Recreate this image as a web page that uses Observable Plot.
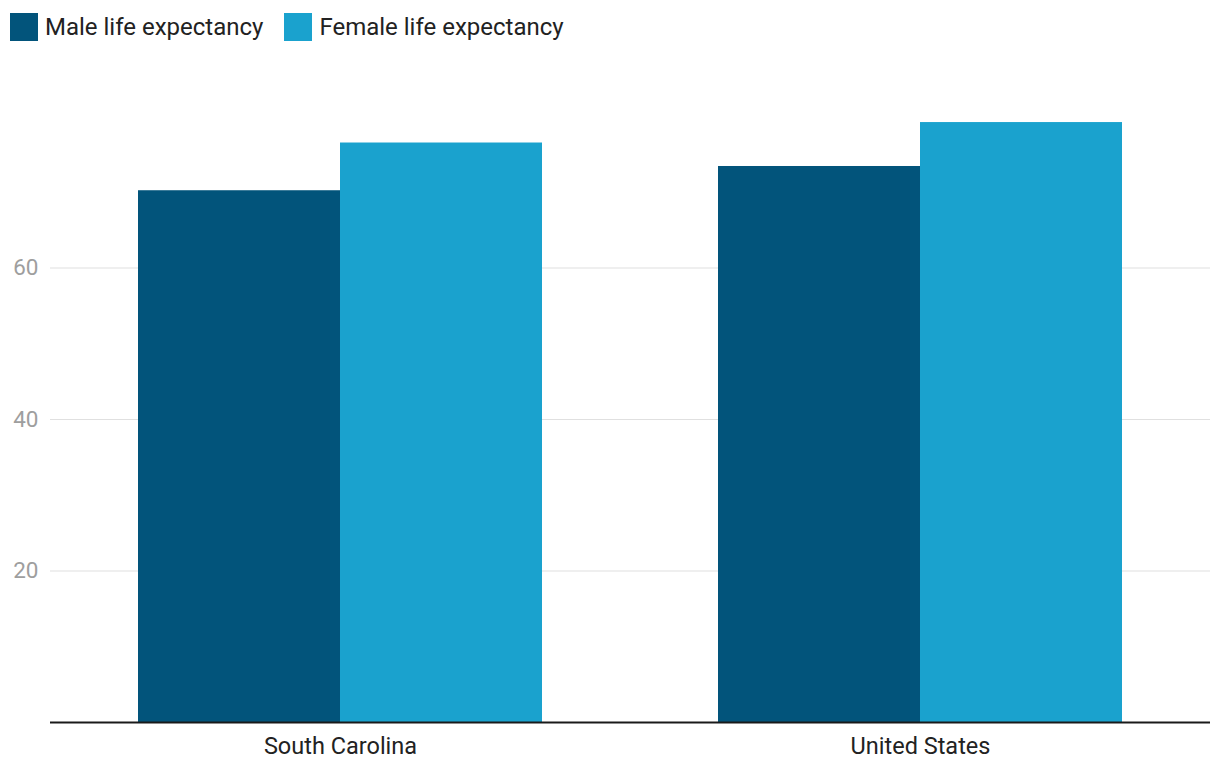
<!DOCTYPE html>
<html>
<head>
<meta charset="utf-8">
<script src="https://cdn.jsdelivr.net/npm/d3@7"></script>
<script src="https://cdn.jsdelivr.net/npm/@observablehq/plot@0.6"></script>
<style>
  html, body { margin: 0; padding: 0; background: #fff; font-family: Roboto, "Noto Sans", sans-serif; }
  #legend { display: flex; align-items: center; height: 56px; box-sizing: border-box; padding: 0 0 2px 10px; }
  .item { display: flex; align-items: center; margin-right: 21px; }
  .sw { width: 28px; height: 28px; margin-right: 7px; }
  .lbl { font-size: 24px; color: #222; }
</style>
</head>
<body>
<div id="legend"></div>
<div id="chart"></div>
<script>
const countries = ["South Carolina", "United States"];
const series = ["Male life expectancy", "Female life expectancy"];
const male = [70.2, 73.4];
const female = [76.5, 79.2];
const colors = ["#02547b", "#1aa2ce"];
const yTicks = [20, 40, 60];

const data = [];
countries.forEach((c, i) => {
  data.push({country: c, series: series[0], value: male[i]});
  data.push({country: c, series: series[1], value: female[i]});
});

const legend = document.getElementById("legend");
series.forEach((s, i) => {
  const it = document.createElement("div");
  it.className = "item";
  it.innerHTML = `<div class="sw" style="background:${colors[i]}"></div><span class="lbl">${s}</span>`;
  legend.appendChild(it);
});

const chart = Plot.plot({
  width: 1220,
  height: 722,
  marginTop: 60,
  marginBottom: 56,
  marginLeft: 50,
  marginRight: 10,
  style: {fontFamily: "Roboto, sans-serif", background: "#fff"},
  fx: {domain: countries, padding: 0, label: null},
  x: {domain: series, paddingInner: 0, paddingOuter: 0.431, axis: null},
  y: {domain: [0, 80], label: null},
  color: {domain: series, range: colors},
  marks: [
    Plot.gridY(yTicks, {stroke: "#e0e0e0", strokeOpacity: 1, strokeWidth: 1.2}),
    Plot.barY(data, {fx: "country", x: "series", y: "value", fill: "series"}),
    Plot.ruleY([0], {stroke: "#1a1a1a", strokeWidth: 2}),
    Plot.axisY({ticks: yTicks, tickSize: 0, tickPadding: 12, fontSize: 22.5, fill: "#9e9e9e", label: null}),
    Plot.axisFx({anchor: "bottom", tickSize: 0, tickPadding: 15, fontSize: 23.5, fill: "#222", label: null})
  ]
});
document.getElementById("chart").appendChild(chart);
</script>
</body>
</html>
